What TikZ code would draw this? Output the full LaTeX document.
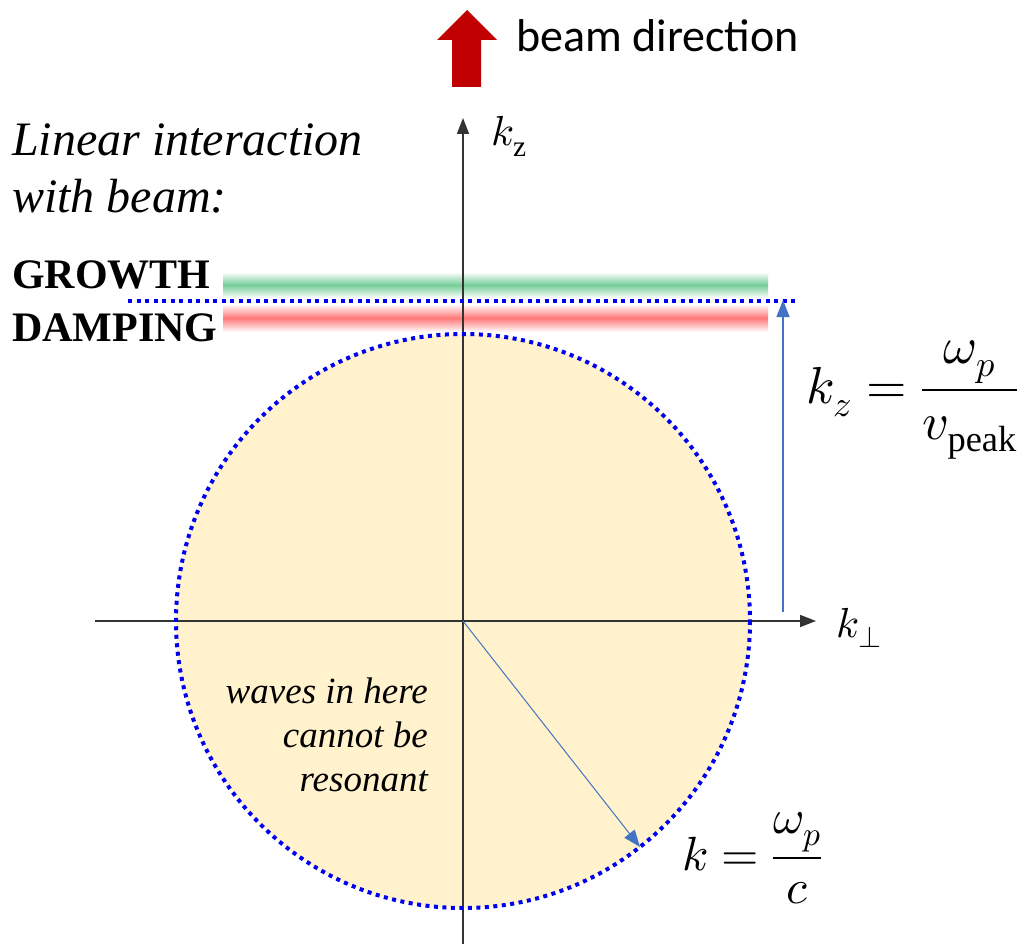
\documentclass[tikz,border=0pt]{standalone}
\usepackage{amsmath}
\usepackage{fontspec}
\usepackage{unicode-math}
\setmainfont{Liberation Serif}
\setmathfont{Latin Modern Math}
\newfontfamily\beamfont{Carlito}
\usepackage{tikz}
\usetikzlibrary{arrows.meta}

\definecolor{beamred}{HTML}{C00000}
\definecolor{dotblue}{HTML}{0000F0}
\definecolor{arrowblue}{HTML}{4472C4}
\definecolor{cirfill}{HTML}{FFF2CC}
\definecolor{growgreen}{HTML}{74CD98}
\definecolor{dampred}{HTML}{FF7878}

\begin{document}
\begin{tikzpicture}[
  x=1pt, y=-1pt,
  axis/.style={line width=1.6pt, draw=black!80, -{Triangle[length=16pt, width=12pt]}},
  dotline/.style={draw=dotblue, line width=4pt, dash pattern=on 4pt off 4.5pt},
  vec/.style={draw=arrowblue, line width=1.4pt, -{Triangle[length=17pt, width=13pt]}},
  lab/.style={inner sep=0pt, font=\fontsize{42}{50}\selectfont},
  band/.style={top color=white, bottom color=white},
  note/.style={inner sep=0pt, font=\fontsize{48}{57}\selectfont\itshape, align=left},
  eq/.style={inner sep=0pt, font=\fontsize{48}{58}\selectfont}
]
\useasboundingbox[fill=white] (0,0) rectangle (1031,944);

% axes and circle
\coordinate (O) at (463,621);
\coordinate (kzlow) at (463,944);
\coordinate (kzhigh) at (463,118);
\coordinate (kxlow) at (95,621);
\coordinate (kxhigh) at (816,621);
\fill[cirfill] (O) circle (287);

% bands
\shade[band, middle color=growgreen] (223,272) rectangle (768,298);
\shade[band, middle color=dampred] (223,304) rectangle (768,332);

\draw[axis] (kzlow) -- (kzhigh);
\draw[axis] (kxlow) -- (kxhigh);
\draw[dotline] (O) circle (287);
\draw[dotline] (128,301) -- (797,301);

% arrows
\coordinate (rim) at (640,847);
\coordinate (peaklow) at (783,612);
\coordinate (peakhigh) at (783,300);
\draw[vec, line width=1pt] (O) -- (rim);
\draw[vec] (peaklow) -- (peakhigh);

% beam direction
\fill[beamred] (437,40) -- (467,10) -- (497,40) -- (481,40) -- (481,87) -- (452,87) -- (452,40) -- cycle;
\node[inner sep=0pt, anchor=base west, font=\fontsize{46}{54}\beamfont] (beam) at (516,52) {beam direction};

% labels
\node[lab, anchor=base west] (kz) at (491,146) {$k_{\mathrm{z}}$};
\node[lab, anchor=base west] (kperp) at (836,637) {$k_{\perp}$};
\node[note, anchor=north west] (linear) at (12,124) {Linear interaction\\with beam:};
\node[lab, anchor=base west, font=\fontsize{42}{50}\selectfont\bfseries] (growth) at (12,288) {GROWTH};
\node[lab, anchor=base west, font=\fontsize{42}{50}\selectfont\bfseries] (damping) at (12,341) {DAMPING};
\node[inner sep=0pt, anchor=north east, align=right, font=\fontsize{37}{44}\selectfont\itshape] (waves) at (428,678) {waves in here\\cannot be\\resonant};
\node[eq, anchor=west, font=\fontsize{52}{62}\selectfont] (kzeq) at (806,400) {$k_z = \dfrac{\omega_p}{v_{\mathrm{peak}}}$};
\node[eq, anchor=west] (keq) at (682,858) {$k = \dfrac{\omega_p}{c}$};
\end{tikzpicture}
\end{document}
